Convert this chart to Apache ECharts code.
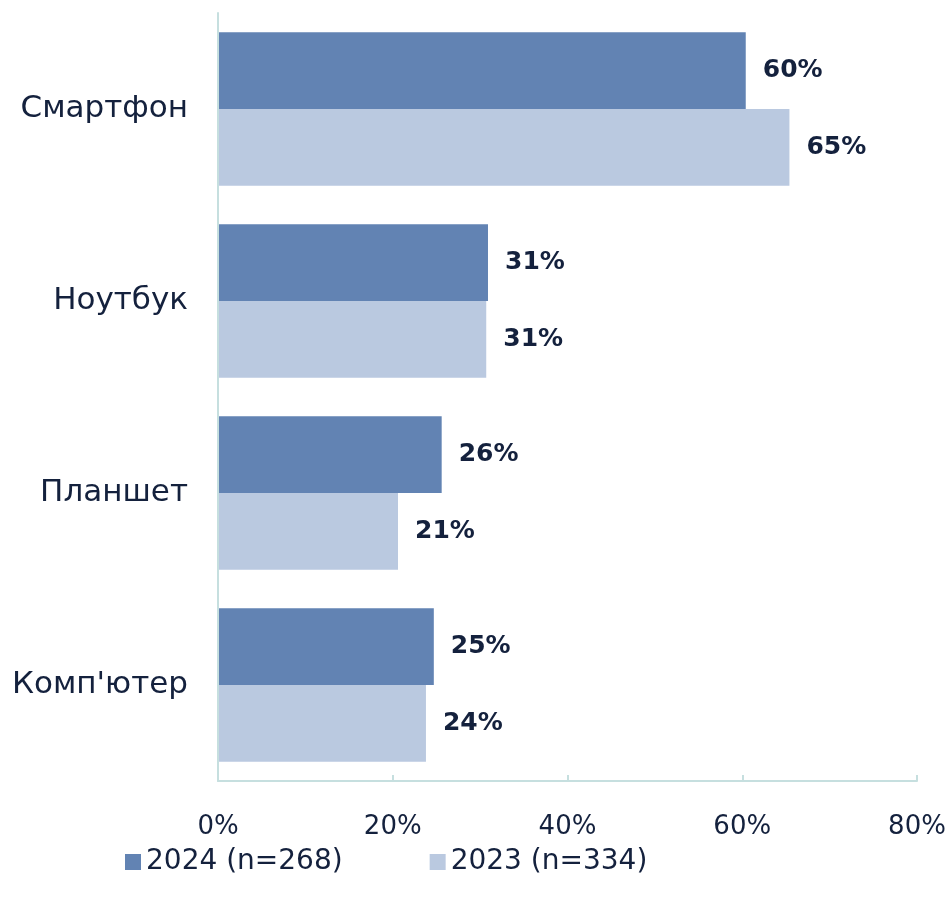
<!DOCTYPE html>
<html>
<head>
<meta charset="utf-8">
<script src="https://cdn.jsdelivr.net/npm/echarts@6/dist/echarts.min.js"></script>
<style>
  html, body { margin: 0; padding: 0; background: #fff; }
  #chart { width: 950px; height: 903px; }
</style>
</head>
<body>
<div id="chart"></div>
<script>
const categories = ["Смартфон", "Ноутбук", "Планшет", "Комп'ютер"];
const values2024 = [60.4, 30.9, 25.6, 24.7];
const values2023 = [65.4, 30.7, 20.6, 23.8];
const xTicks = [0, 20, 40, 60, 80];

const textColor = "#14213d";
const axisColor = "#c6dfdf";
const font = "DejaVu Sans";

const chart = echarts.init(document.getElementById("chart"));

const label = {
  show: true,
  position: "right",
  distance: 17,
  color: textColor,
  fontFamily: font,
  fontWeight: "bold",
  fontSize: 25,
  formatter: (p) => Math.round(p.value) + "%"
};

chart.setOption({
  animation: false,
  textStyle: { fontFamily: font },
  legend: {
    top: 843,
    left: 120,
    itemGap: 87,
    itemWidth: 16,
    itemHeight: 16,
    icon: "rect",
    textStyle: { color: textColor, fontSize: 28, fontFamily: font },
    data: ["2024 (n=268)", "2023 (n=334)"]
  },
  grid: { left: 218, right: 33, top: 13, bottom: 122, containLabel: false },
  xAxis: {
    type: "value",
    min: xTicks[0],
    max: xTicks[xTicks.length - 1],
    interval: 20,
    axisLine: { show: true, lineStyle: { color: axisColor, width: 2 } },
    axisTick: { show: true, inside: true, length: 6, lineStyle: { color: axisColor, width: 2 } },
    splitLine: { show: false },
    axisLabel: {
      color: textColor,
      fontSize: 26,
      fontFamily: font,
      margin: 33,
      formatter: (v) => v + "%"
    }
  },
  yAxis: {
    type: "category",
    inverse: true,
    data: categories,
    axisLine: { show: true, lineStyle: { color: axisColor, width: 2 } },
    axisTick: { show: false },
    axisLabel: { color: textColor, fontSize: 31, fontFamily: font, margin: 30 },
    z: 5
  },
  series: [
    {
      name: "2024 (n=268)",
      type: "bar",
      data: values2024,
      barGap: "0%",
      barCategoryGap: "20%",
      itemStyle: { color: "#6283b3" },
      label: label
    },
    {
      name: "2023 (n=334)",
      type: "bar",
      data: values2023,
      itemStyle: { color: "#bac9e0" },
      label: label
    }
  ]
});
</script>
</body>
</html>
